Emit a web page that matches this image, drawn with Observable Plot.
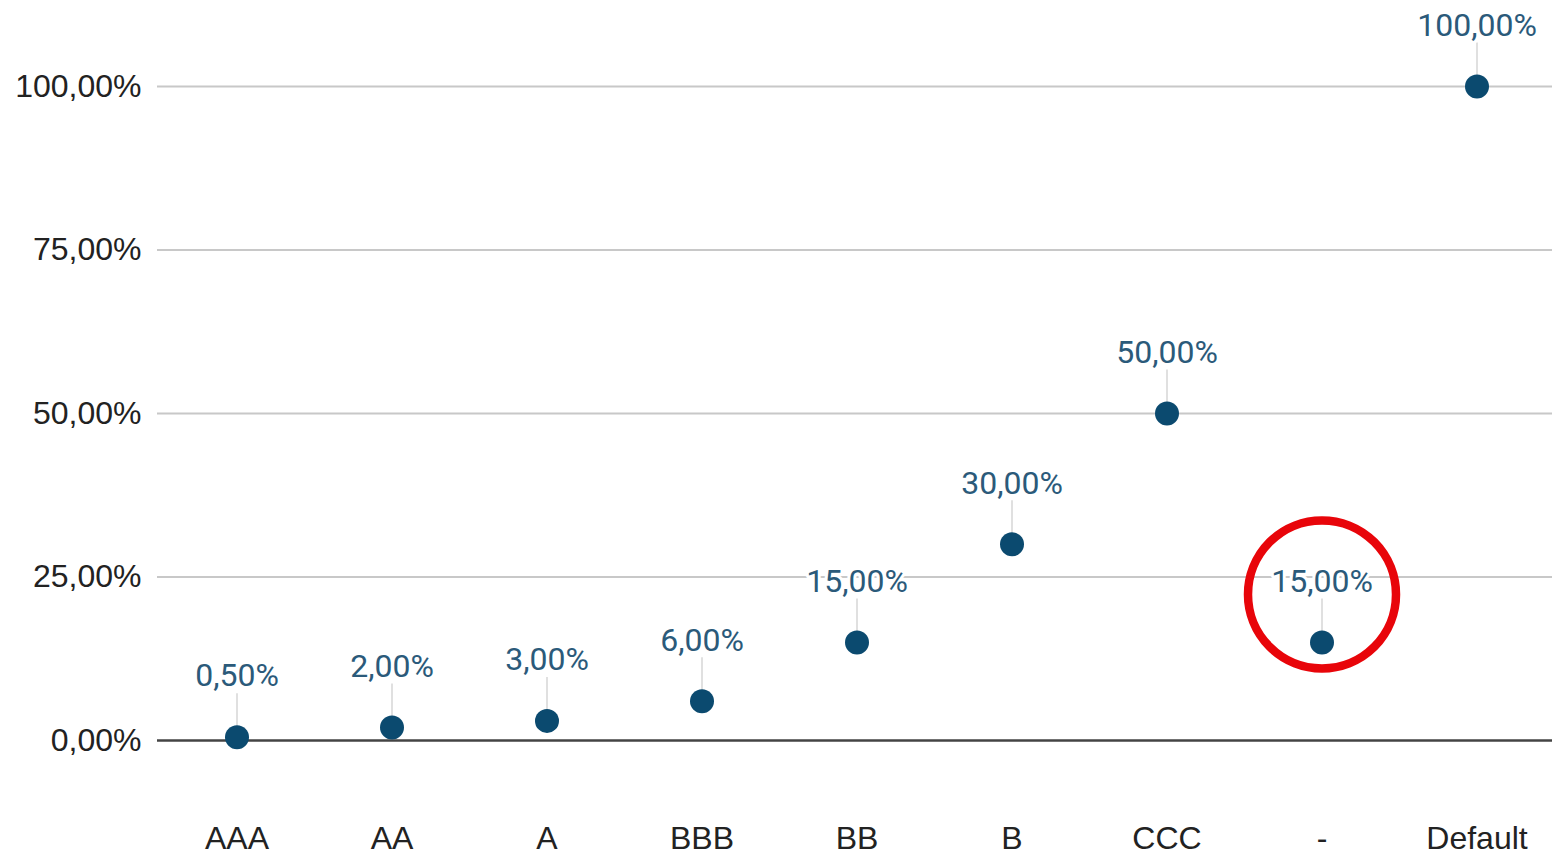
<!DOCTYPE html>
<html>
<head>
<meta charset="utf-8">
<script src="https://cdn.jsdelivr.net/npm/d3@7"></script>
<script src="https://cdn.jsdelivr.net/npm/@observablehq/plot@0.6"></script>
<style>
  html, body { margin: 0; padding: 0; background: #fff; }
  #chart svg { display: block; }
</style>
</head>
<body>
<div id="chart"></div>
<script>
const categories = ["AAA", "AA", "A", "BBB", "BB", "B", "CCC", "-", "Default"];
const values = [0.5, 2, 3, 6, 15, 30, 50, 15, 100];
const yTicks = [0, 25, 50, 75, 100];
const highlighted = ["-"];

const data = categories.map((c, i) => ({ cat: c, v: values[i] }));
const fmt = v => d3.format(".2f")(v).replace(".", ",") + "%";

const W = 1552, H = 855;
const dotColor = "#0b4a6f";
const labelColor = "#2b5a7a";

const chart = Plot.plot({
  width: W,
  height: H,
  marginLeft: 157,
  marginRight: 0,
  marginTop: 86,
  marginBottom: 115,
  style: { background: "#fff", overflow: "visible" },
  x: { type: "band", domain: categories, padding: 0, align: 0.5, range: [158.5, 1554.5] },
  y: { domain: [0, 100] },
  marks: [
    Plot.ruleY(yTicks.filter(t => t > 0), { stroke: "#c8c8c8", strokeWidth: 2 }),
    Plot.ruleY([0], { stroke: "#444", strokeWidth: 2.5 }),
    Plot.axisY({
      ticks: yTicks, tickSize: 0, tickPadding: 16, tickFormat: fmt,
      fontSize: 32, fill: "#222", fontFamily: "Liberation Sans, Arial, sans-serif", label: null
    }),
    Plot.axisX({
      tickSize: 0, tickPadding: 86, fontSize: 32, fill: "#222",
      fontFamily: "Liberation Sans, Arial, sans-serif", label: null
    }),
    // connector lines from label to dot
    Plot.link(data, {
      x1: "cat", x2: "cat", y1: "v", y2: "v",
      stroke: "#d6d6d6", strokeWidth: 1.5,
      render: (index, scales, values, dims, context, next) => {
        const g = next(index, scales, values, dims, context);
        d3.select(g).selectAll("path").each(function (_, j) {
          const i = index[j];
          const x = values.x1[i], y = values.y1[i];
          d3.select(this).attr("d", `M${x},${y - 44}L${x},${y - 10}`);
        });
        return g;
      }
    }),
    Plot.dot(data, { x: "cat", y: "v", r: 12, fill: dotColor }),
    Plot.text(data, {
      x: "cat", y: "v", text: d => fmt(d.v), dy: -61,
      fill: labelColor, fontSize: 32, fontFamily: "Roboto, sans-serif", fontWeight: 400,
      stroke: "#fff", strokeWidth: 6, paintOrder: "stroke"
    }),
    Plot.dot(data.filter(d => highlighted.includes(d.cat)), {
      x: "cat", y: "v", dy: -48, r: 74, stroke: "#e8050a", strokeWidth: 8.5, fill: "none"
    })
  ]
});
document.getElementById("chart").appendChild(chart);
</script>
</body>
</html>
